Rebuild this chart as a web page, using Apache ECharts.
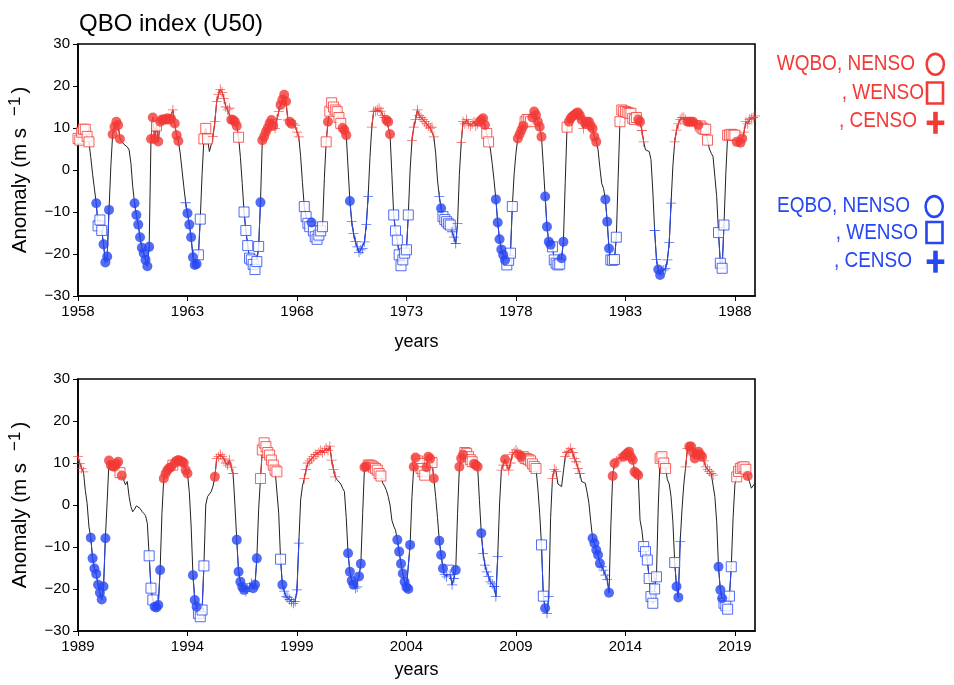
<!DOCTYPE html>
<html>
<head>
<meta charset="utf-8">
<script src="https://cdn.jsdelivr.net/npm/echarts@6.0.0/dist/echarts.min.js"></script>
<style>
  html, body { margin: 0; padding: 0; background: #fff; }
  #chart { width: 954px; height: 685px; }
</style>
</head>
<body>
<div id="chart"></div>
<script>
// Monthly QBO index (50 hPa zonal wind anomaly, m/s), Jan 1958 - Dec 1988
const u50Early = [
   7.5,  7.1,  9.0,  9.7,  9.7,  8.0,  6.7,  3.0, -1.0, -4.5, -7.9,-13.3,  // 1958
 -11.9,-14.4,-17.7,-22.0,-20.6, -9.5,  1.0,  8.5, 10.3, 11.5, 10.7,  7.4,  // 1959
   6.8,  6.2,  6.0,  5.5,  4.8,  1.6, -4.0, -7.9,-10.7,-13.0,-16.0,-18.5,  // 1960
 -19.8,-21.4,-22.9,-18.3,  7.4, 12.5,  7.4, 10.5,  6.8, 11.5, 12.0, 12.0,  // 1961
  12.0, 12.3, 12.0, 12.2, 14.3, 11.1,  8.3,  6.9,  4.0,  0.0, -4.0, -7.8,  // 1962
 -10.3,-13.0,-16.0,-20.8,-22.6,-22.4,-20.2,-11.7, -1.0,  7.4,  9.9,  7.4,  // 1963
   4.4,  6.0,  8.0, 11.5, 16.3, 18.0, 19.2, 18.5, 17.0, 15.0, 14.3, 14.7,  // 1964
  12.0, 11.9, 11.5, 10.5,  7.8,  3.0, -3.2,-10.0,-14.4,-18.0,-21.0,-21.4,  // 1965
 -22.5,-23.7,-21.8,-18.2, -7.7,  7.1,  8.0,  9.1, 10.0, 11.1, 11.9, 10.5,  // 1966
   9.9, 12.0, 13.9, 15.5, 16.7, 17.9, 16.3, 11.9, 11.5, 11.0, 11.0, 10.7,  // 1967
   9.0,  7.9,  3.2, -3.0, -8.7,-11.1,-12.7,-13.5,-12.5,-14.5,-15.9,-16.5,  // 1968
 -15.5,-14.5,-13.5, -2.0,  6.7, 11.5, 14.0, 16.0, 15.0, 14.3, 13.9, 12.5,  // 1969
  11.1, 10.0,  9.5,  8.3,  0.5, -7.4,-12.3,-15.1,-17.0,-18.3,-19.6,-19.0,  // 1970
 -18.7,-17.1,-13.0, -6.3,  3.0, 10.2, 13.9, 14.0, 14.3, 14.7, 14.0, 13.0,  // 1971
  12.5, 11.9, 11.5,  8.5, -1.0,-10.7,-14.5,-16.7,-20.2,-22.8,-21.4,-19.8,  // 1972
 -19.0,-10.7,  0.0,  7.0, 10.2, 12.0, 14.3, 13.0, 12.5, 12.0, 11.5, 11.0,  // 1973
  10.5, 10.0, 10.2,  7.9,  4.0, -2.4, -6.3, -9.1,-11.1,-11.8,-12.3,-12.8,  // 1974
 -13.1,-14.7,-16.0,-17.5,-12.7, -1.0,  6.5, 11.5, 11.0, 12.0, 11.0, 10.5,  // 1975
  11.0, 11.5, 10.5, 11.0, 11.5, 11.9, 12.3, 10.7,  8.7,  6.7,  5.0,  1.5,  // 1976
  -2.5, -7.0,-12.5,-16.5,-18.9,-20.2,-21.5,-22.6,-21.5,-19.8, -8.7, -1.0,  // 1977
   4.0,  7.5,  8.5,  9.5, 10.5, 11.5, 12.0, 12.0, 11.5, 12.5, 13.9, 13.1,  // 1978
  11.5, 10.3,  7.9,  1.0, -6.3,-13.5,-17.1,-17.8,-18.3,-21.4,-22.2,-22.6,  // 1979
 -22.4,-21.0,-17.1, -3.0, 10.2, 11.5, 12.3, 12.8, 13.1, 13.5, 13.7, 13.0,  // 1980
  12.0,  9.9, 11.0, 11.5, 11.5, 10.5,  9.9,  7.9,  6.7,  4.8,  0.5, -3.2,  // 1981
  -4.4, -7.0,-12.3,-18.7,-21.4,-21.5,-21.3,-16.0, -2.0, 11.5, 14.3, 14.0,  // 1982
  13.9, 13.7, 13.5, 13.5, 12.3, 12.0, 12.5, 12.0, 11.5,  9.4,  6.7,  4.8,  // 1983
   4.6,  4.4,  2.5, -5.0,-14.4,-21.3,-23.7,-25.0,-24.0,-23.8,-23.5,-21.4,  // 1984
 -17.3, -7.9,  1.0,  6.7,  9.5, 11.0, 12.0, 12.5, 12.5, 12.0, 11.5, 11.5,  // 1985
  11.5, 11.5, 11.0, 11.0, 10.7, 10.5, 10.0,  9.7,  9.7,  7.1,  5.0,  4.0,  // 1986
   3.2, -1.5, -6.3,-14.9,-22.2,-23.4,-13.1, -1.0,  8.3,  8.3,  8.5,  8.3,  // 1987
   8.3,  6.7,  5.5,  6.5,  7.5,  9.0, 11.5, 11.0, 12.0, 12.3, 12.5, 12.9   // 1988
];

// ENSO state of each marked month: n = neutral, w = warm, c = cold, '.' = unmarked
const ensoEarly = [
  'wwwwwww...nw', 'wwnnnn.nnnnn', '.......nnnnn', 'nnnnnnnwnnnn', 'nnnncnnn...c',
  'nnnnnnww.www', '..cccccccccc', 'nnnnw..wwwww', 'wwwwnnnnnnnn', 'cccnnnncnncc',
  'cc..wwwwnwww', 'www.wnwwwwww', 'wnnn.ncccccc', 'cccc.ccccccc', 'cnnn.wwwwwww',
  'ww.ccccccccc', 'cccc..cnwwww', 'wcccc.cccccc', 'ccccnnnnww..', '.nnnnnnwwww.',
  '.nnnnwwwwnnn', 'nnn.nnnnwwww', 'wnn.wnnnnnnn', 'ncnnnnnnn...', '.nnnwwww.www',
  'wwwwwwwnncc.', '....ccnncccc', 'cc.cccccccnn', 'nnccnwwwww..', '...wwww.wwww',
  'wn.nnccccccc'
].join('');

// Monthly QBO index, Jan 1989 - Dec 2019
const u50Late = [
  11.5,  9.9,  8.7,  7.9,  3.5,  0.4, -5.2, -7.8,-12.7,-15.1,-16.4,-19.0,  // 1989
 -20.9,-22.5,-19.4, -7.9,  1.0, 10.6,  9.5,  9.2,  9.1,  9.8, 10.3,  7.7,  // 1990
   7.0,  6.0,  4.8,  5.6,  2.0, -0.4, -1.6, -1.0, -0.2, -0.5, -0.8, -1.5,  // 1991
  -2.0, -2.5, -4.4,-12.1,-19.8,-22.6,-24.2,-24.4,-23.8,-15.5, -2.0,  6.3,  // 1992
   7.5,  8.3,  8.8,  9.0,  9.5, 10.0, 10.5, 10.7, 10.5, 10.3, 10.0,  8.3,  // 1993
   7.5,  3.0, -5.0,-16.7,-22.6,-24.2,-25.8,-26.6,-25.0,-14.5,  0.0,  2.0,  // 1994
   2.0,  3.2,  4.5,  6.7, 11.1, 11.5, 12.0, 11.5, 11.0, 10.0,  9.5, 10.7,  // 1995
   9.0,  7.5,  0.0, -8.3,-15.9,-18.3,-19.5,-20.2,-20.6,-20.0,-19.5,-18.7,  // 1996
 -19.8,-19.0,-12.7, -1.0,  6.3, 13.1, 14.8, 13.9, 12.5, 11.9, 10.7,  9.5,  // 1997
   8.3,  7.9, -2.0,-12.9,-19.0,-20.5,-21.8,-22.0,-22.5,-23.0,-23.4,-23.0,  // 1998
 -20.2, -9.1,  1.2,  4.5,  6.3,  8.5, 10.0, 10.5, 11.0, 11.5, 12.0, 12.0,  // 1999
  12.5, 13.0, 12.5, 13.0, 13.5, 13.0, 14.0, 10.7,  8.5,  6.7,  6.0,  5.6,  // 2000
   5.0,  4.0,  3.2, -3.0,-11.5,-15.9,-18.0,-19.0,-19.8,-19.5,-17.0,-14.0,  // 2001
  -2.0,  9.0,  9.2,  9.5,  9.5,  9.3,  9.0,  8.7,  8.3,  7.5,  6.9,  5.2,  // 2002
   4.5,  3.5,  2.0,  0.0, -3.6, -5.0, -6.0, -8.3,-11.1,-14.0,-16.3,-18.3,  // 2003
 -19.6,-20.0, -9.5,  2.0,  9.1, 11.3, 10.5,  9.9,  8.7,  7.9,  7.1,  9.0,  // 2004
  11.5, 11.0, 10.1,  6.3,  2.0, -3.0, -8.5,-11.9,-15.1,-16.5,-17.1,-15.5,  // 2005
 -16.5,-19.0,-17.5,-15.5, -2.0,  9.1, 11.1, 12.0, 12.5, 12.3, 11.5, 10.8,  // 2006
  10.3,  9.8,  9.5,  9.1,  1.0, -6.7,-11.5,-14.3,-15.9,-17.0,-18.3,-18.8,  // 2007
 -19.4,-21.8,-12.3,  0.0,  8.3,  9.5, 10.9,  9.5,  8.3, 10.0, 12.0, 12.5,  // 2008
  13.1, 12.5, 11.9, 11.5, 11.5, 11.1, 11.0, 10.8, 10.5,  9.8,  9.2,  8.7,  // 2009
   4.0, -2.0, -9.5,-21.7,-24.6,-25.8,-21.8, -3.0,  6.3,  8.5,  8.0,  5.0,  // 2010
   4.8,  4.4,  4.4, 11.5, 12.5, 12.8, 13.5, 12.5, 11.1, 10.3,  8.7,  7.5,  // 2011
   5.6,  5.4,  5.2,  3.0,  0.4, -4.0, -7.9, -9.1,-10.7,-11.9,-13.9,-14.7,  // 2012
 -15.5,-16.7,-17.7,-20.9, -5.0,  6.9,  9.9, 10.5, 11.0, 11.1, 11.3, 11.5,  // 2013
  11.9, 12.3, 12.7, 11.5, 10.7,  7.9,  7.5,  7.1, -3.6, -6.0, -9.9,-11.1,  // 2014
 -13.1,-17.5,-21.8,-23.4,-20.0,-17.1,  0.0, 11.1, 11.5, 10.0,  8.7,  6.0,  // 2015
   5.0,  2.0, -4.0,-13.7,-19.4,-22.0, -8.7, -1.0,  5.0,  9.1, 13.5, 13.9,  // 2016
  13.9, 12.5, 11.1, 12.0, 12.7, 12.0, 11.5, 10.5,  9.1,  8.5,  8.0,  7.5,  // 2017
   7.1,  2.0, -4.0,-14.7,-20.2,-22.2,-23.4,-24.0,-24.8,-21.7,-14.7, -3.0,  // 2018
   5.0,  6.7,  8.0,  8.7,  9.0,  9.1,  8.5,  6.9,  5.5,  4.0,  4.2,  5.2   // 2019
];

const ensoLate = [
  'cccc...nnnnn', 'nnnn.nnnnnnw', 'n...........', '...wwwnnnn.n', 'nnnnwnnnnnnn',
  'n..nnnwwww..', '...ncccccccc', 'cc.nnnnncccc', 'nnn.wwwwwwww', 'ww.wnccccccc',
  'cc..cccccccc', 'cccccccccc..', '....nnnnccnn', '.nnwwwwwwww.', '.......nnnnn',
  'nnn.nnwwwwwn', 'nnwn..nnnccw', 'cccn.nnnwwww', 'wnnn.ncccccc', 'ccc.ccnccccc',
  'ccnnwwwwwwww', '..wwncc.ccc.', '...ccccccccc', '......nnnnnc', 'cccn.nnccccn',
  'nnnnnnnn..ww', 'wwwwww.wwww.', '...wnnc..ccn', 'nnnnnnnccccc', 'c..nnnwwwww.',
  '.wwwwwwn....'
].join('');

const earlyYearTicks = [1958, 1963, 1968, 1973, 1978, 1983, 1988];
const lateYearTicks  = [1989, 1994, 1999, 2004, 2009, 2014, 2019];
const anomalyTicks   = [-30, -20, -10, 0, 10, 20, 30];

const RED = '#f23a36';
const BLUE = '#2747f2';
const FONT = '"Liberation Sans", Arial, Helvetica, sans-serif';
const PLUS = 'path://M0,4.6H10V5.4H0ZM4.6,0H5.4V10H4.6Z';

const chart = echarts.init(document.getElementById('chart'), null, { renderer: 'canvas' });

function minusSign(v) { return v < 0 ? '\u2212' + Math.abs(v) : String(v); }

function xAxisFor(k, baseYear, ticks, gap) {
  return {
    type: 'value', gridIndex: k, min: 0, max: 371 / 12, interval: 5,
    axisLine: { show: true, onZero: false, lineStyle: { color: '#000', width: 1.6 } },
    axisTick: { show: true, inside: false, length: 5, lineStyle: { color: '#000', width: 1 } },
    splitLine: { show: false },
    axisLabel: {
      margin: 8, fontSize: 15, color: '#000', fontFamily: FONT,
      showMaxLabel: false,
      formatter: v => {
        const y = Math.round(baseYear + v);
        return (Math.abs(baseYear + v - y) < 1e-6 && ticks.includes(y)) ? String(y) : '';
      }
    },
    name: 'years', nameLocation: 'middle', nameGap: gap,
    nameTextStyle: { fontSize: 18, color: '#000', fontFamily: FONT }
  };
}

function yAxisFor(k) {
  return {
    type: 'value', gridIndex: k,
    min: anomalyTicks[0], max: anomalyTicks[anomalyTicks.length - 1], interval: 10,
    axisLine: { show: true, onZero: false, lineStyle: { color: '#000', width: 1.6 } },
    axisTick: { show: true, inside: false, length: 5, lineStyle: { color: '#000', width: 1 } },
    splitLine: { show: false },
    axisLabel: { margin: 8, fontSize: 15, color: '#000', fontFamily: FONT, formatter: minusSign },
    name: '{a|Anomaly (m s}{s|\u22121}{a|)}',
    nameLocation: 'middle', nameGap: 45, nameRotate: 90,
    nameTextStyle: {
      color: '#000', fontFamily: FONT,
      rich: {
        a: { fontSize: 20.5, color: '#000', fontFamily: FONT, lineHeight: 26 },
        s: { fontSize: 17, color: '#000', fontFamily: FONT, verticalAlign: 'top', padding: [0, 3, 0, 12] }
      }
    }
  };
}

function panelSeries(k, vals, codes) {
  const pts = vals.map((v, i) => [i / 12, v]);
  const base = { xAxisIndex: k, yAxisIndex: k, animation: false, silent: true };
  const phaseLine = west => pts.map((p, i) =>
    (codes[i] !== '.' && (p[1] > 0) === west) ? p : [p[0], '-']);
  const marks = (west, c) => pts.filter((p, i) => codes[i] === c && (p[1] > 0) === west);
  const list = [
    Object.assign({}, base, { type: 'line', data: pts, symbol: 'none', z: 2,
      lineStyle: { color: '#222', width: 1 } }),
    Object.assign({}, base, { type: 'line', data: phaseLine(true), symbol: 'none', z: 3,
      connectNulls: false, lineStyle: { color: RED, width: 1 } }),
    Object.assign({}, base, { type: 'line', data: phaseLine(false), symbol: 'none', z: 3,
      connectNulls: false, lineStyle: { color: BLUE, width: 1 } })
  ];
  [[true, RED], [false, BLUE]].forEach(([west, col]) => {
    list.push(Object.assign({}, base, { type: 'scatter', z: 4, data: marks(west, 'w'),
      symbol: 'rect', symbolSize: 10,
      itemStyle: { color: '#fff', borderColor: col, borderWidth: 1 } }));
    list.push(Object.assign({}, base, { type: 'scatter', z: 5, data: marks(west, 'c'),
      symbol: PLUS, symbolSize: 10, itemStyle: { color: col } }));
    list.push(Object.assign({}, base, { type: 'scatter', z: 6, data: marks(west, 'n'),
      symbol: 'circle', symbolSize: 10, itemStyle: { color: col } }));
  });
  return list;
}

function legendRow(x, y, label, col) {
  return { type: 'text', x: x, y: y, scaleY: 1.15, silent: true,
    style: { text: label, fill: col, fontSize: 19, fontFamily: FONT,
      align: 'right', verticalAlign: 'middle' } };
}
function legendCircle(cx, cy, col) {
  return { type: 'ellipse', silent: true, shape: { cx: cx, cy: cy, rx: 8.6, ry: 10.4 },
    style: { fill: 'none', stroke: col, lineWidth: 2.6 } };
}
function legendSquare(x, y, col) {
  return { type: 'rect', silent: true, shape: { x: x, y: y, width: 16, height: 21 },
    style: { fill: 'none', stroke: col, lineWidth: 2.6 } };
}
function legendPlus(cx, cy, col) {
  return { type: 'group', silent: true, children: [
    { type: 'rect', shape: { x: cx - 8.8, y: cy - 2.3, width: 17.6, height: 4.6 }, style: { fill: col } },
    { type: 'rect', shape: { x: cx - 2.3, y: cy - 11, width: 4.6, height: 22 }, style: { fill: col } }
  ] };
}

const gridBase = { left: 78, width: 677, height: 252, show: true, borderColor: '#000',
  borderWidth: 1.6, backgroundColor: 'transparent', containLabel: false, outerBoundsMode: 'none' };

const option = {
  backgroundColor: '#fff',
  animation: false,
  grid: [
    Object.assign({}, gridBase, { top: 44 }),
    Object.assign({}, gridBase, { top: 379 })
  ],
  xAxis: [xAxisFor(0, 1958, earlyYearTicks, 37), xAxisFor(1, 1989, lateYearTicks, 30)],
  yAxis: [yAxisFor(0), yAxisFor(1)],
  series: panelSeries(0, u50Early, ensoEarly).concat(panelSeries(1, u50Late, ensoLate)),
  graphic: [
    { type: 'text', x: 79, y: 24, silent: true,
      style: { text: 'QBO index (U50)', fill: '#000', fontSize: 24, fontFamily: FONT, align: 'left', verticalAlign: 'middle' } },
    legendRow(915, 64, 'WQBO, NENSO', RED),   legendCircle(935.3, 64.3, RED),
    legendRow(924, 92.5, ', WENSO', RED),     legendSquare(927, 82.5, RED),
    legendRow(917, 121, ', CENSO', RED),      legendPlus(935.5, 122.8, RED),
    legendRow(910, 206, 'EQBO, NENSO', BLUE), legendCircle(934.2, 206.5, BLUE),
    legendRow(918, 233, ', WENSO', BLUE),     legendSquare(926.5, 222, BLUE),
    legendRow(912, 261, ', CENSO', BLUE),     legendPlus(935.5, 261.7, BLUE)
  ]
};

chart.setOption(option);
</script>
</body>
</html>
